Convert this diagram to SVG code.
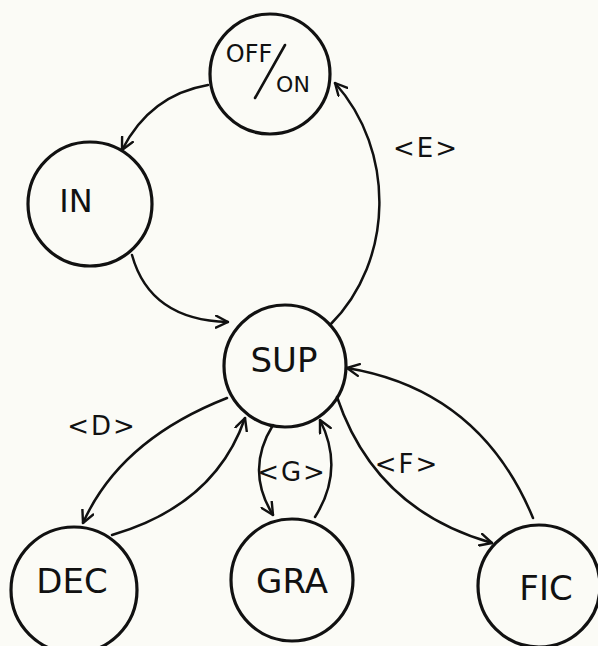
<svg xmlns="http://www.w3.org/2000/svg" width="598" height="646" viewBox="0 0 598 646">
<style>
.bg{fill:#fbfbf6}
.node{fill:none;stroke:#111;stroke-width:3.2}
.lbl{font-family:"DejaVu Sans",sans-serif;fill:#111;text-anchor:middle}
.elbl{font-family:"DejaVu Sans",sans-serif;fill:#111;text-anchor:middle;font-size:26px;letter-spacing:2px}
.edge{fill:none;stroke:#111;stroke-width:2.5;stroke-linecap:round}
</style>
<defs>
<marker id="arr" viewBox="0 0 14 14" refX="13" refY="7" markerWidth="14" markerHeight="14" markerUnits="userSpaceOnUse" orient="auto">
<path d="M1,1 L13,7 L1,13" fill="none" stroke="#111" stroke-width="2.4" stroke-linecap="round" stroke-linejoin="round"/>
</marker>
</defs>
<rect class="bg" x="0" y="0" width="598" height="646"/>
<g id="connectors">
<path class="edge" d="M208,85 Q150,95 122,150" marker-end="url(#arr)"/>
<path class="edge" d="M132,255 Q150,320 228,322" marker-end="url(#arr)"/>
<path class="edge" d="M330,325 C395,260 395,150 335,83" marker-end="url(#arr)"/>
<path class="edge" d="M227,398 Q120,440 83,523" marker-end="url(#arr)"/>
<path class="edge" d="M112,535 Q215,505 245,418" marker-end="url(#arr)"/>
<path class="edge" d="M273,425 Q245,470 273,515" marker-end="url(#arr)"/>
<path class="edge" d="M315,517 Q345,470 320,420" marker-end="url(#arr)"/>
<path class="edge" d="M337,397 Q375,510 492,543" marker-end="url(#arr)"/>
<path class="edge" d="M533,518 Q480,390 347,368" marker-end="url(#arr)"/>
<text class="elbl" x="426" y="157" letter-spacing="4">&lt;E&gt;</text>
<text class="elbl" x="102" y="435">&lt;D&gt;</text>
<text class="elbl" x="292" y="481">&lt;G&gt;</text>
<text class="elbl" x="407" y="473">&lt;F&gt;</text>
</g>
<g id="offon">
<circle class="node" cx="270" cy="74" r="60"/>
<text class="lbl" x="249" y="62" font-size="24">OFF</text>
<line x1="255" y1="98" x2="285" y2="45" stroke="#111" stroke-width="2.6" stroke-linecap="round"/>
<text class="lbl" x="293" y="92" font-size="22">ON</text>
</g>
<g id="in">
<circle class="node" cx="90" cy="204" r="62"/>
<text class="lbl" x="76" y="212" font-size="32">IN</text>
</g>
<g id="sup">
<circle class="node" cx="285" cy="366" r="61"/>
<text class="lbl" x="284" y="372" font-size="34">SUP</text>
</g>
<g id="dec">
<circle class="node" cx="74" cy="590" r="63"/>
<text class="lbl" x="72" y="593" font-size="34">DEC</text>
</g>
<g id="gra">
<circle class="node" cx="292" cy="580" r="61"/>
<text class="lbl" x="292" y="593" font-size="34">GRA</text>
</g>
<g id="fic">
<circle class="node" cx="539" cy="586" r="61"/>
<text class="lbl" x="546" y="600" font-size="34">FIC</text>
</g>
</svg>
